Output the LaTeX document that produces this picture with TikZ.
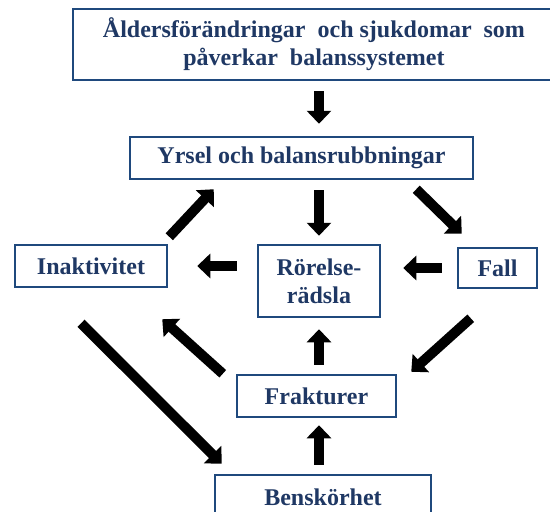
\documentclass[tikz,border=0pt]{standalone}
\usepackage{fontspec}
\setmainfont{Liberation Serif}
\usepackage{xcolor}
\usepackage{tikz}
\usetikzlibrary{arrows.meta}
\definecolor{balEdge}{HTML}{1F497D}
\definecolor{balInk}{HTML}{1F3864}
\tikzset{
  bal diagram/.style={font=\fontsize{24}{28}\selectfont\bfseries, text=balInk},
  bal box/.style={draw=balEdge, fill=white, line width=2.5pt,
    align=center, inner sep=0pt},
  bal arrow/.style={-{Triangle[length=13pt,width=24pt]}, draw=black,
    line width=10pt}
}
\begin{document}
\begin{tikzpicture}[bal diagram,x=1pt,y=-1pt]
\useasboundingbox (0,0) rectangle (550,512);
\clip (0,0) rectangle (550,512);
% boxes
\node[bal box,minimum width=482pt,minimum height=71pt] (alder) at (314,44.5)
  {Åldersförändringar\ \ och sjukdomar\ \ som\\påverkar\ \ balanssystemet};
\node[bal box,minimum width=343pt,minimum height=42pt] (yrsel) at (301.5,158)
  {Yrsel och balansrubbningar};
\node[bal box,minimum width=152pt,minimum height=42pt] (inakt) at (91,266)
  {Inaktivitet};
\node[bal box,minimum width=122pt,minimum height=72pt] (radsla) at (319,281)
  {Rörelse-\\rädsla};
\node[bal box,minimum width=79pt,minimum height=40pt] (fall) at (497.5,268)
  {Fall};
\node[bal box,minimum width=159pt,minimum height=42pt] (frakt) at (316.5,396)
  {Frakturer};
\node[bal box,minimum width=216pt,minimum height=44pt] (bensk) at (323,497)
  {Benskörhet};
% vertical arrows
\draw[bal arrow,shorten <=10pt,shorten >=12pt] (alder.south -| radsla) -- (yrsel.north -| radsla);
\draw[bal arrow,shorten <=10pt,shorten >=8pt] (yrsel.south -| radsla) -- (radsla.north);
\draw[bal arrow,shorten <=9pt,shorten >=11pt] (frakt.north -| radsla) -- (radsla.south);
\draw[bal arrow,shorten <=9pt,shorten >=7pt] (bensk.north -| radsla) -- (frakt.south -| radsla);
% horizontal arrows
\draw[bal arrow,shorten <=15pt,shorten >=22pt] (fall.west) -- (radsla.east |- fall.west);
\draw[bal arrow,shorten <=20pt,shorten >=29pt] (radsla.west |- inakt.east) -- (inakt.east);
% diagonal arrows
\draw[bal arrow] ([shift={(1,-7)}]inakt.north east) -- ([shift={(85,9)}]yrsel.south west);
\draw[bal arrow] ([shift={(-58,9)}]yrsel.south east) -- ([shift={(5,-13)}]fall.north west);
\draw[bal arrow] ([shift={(14,29)}]fall.south west) -- ([shift={(14,-2)}]frakt.north east);
\draw[bal arrow] ([shift={(-13,0)}]frakt.north west) -- ([shift={(-6,31)}]inakt.south east);
\draw[bal arrow] ([shift={(-10,35)}]inakt.south) -- ([shift={(8,-10)}]bensk.north west);
\end{tikzpicture}
\end{document}
